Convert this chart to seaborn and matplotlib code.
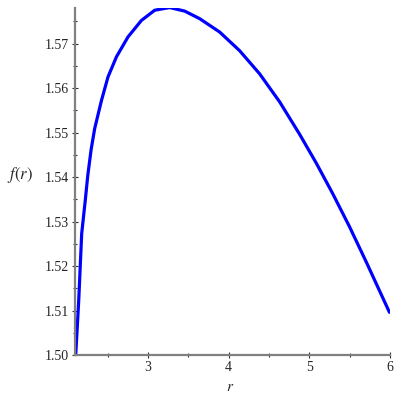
import seaborn as sns
import matplotlib
matplotlib.use("Agg")
import matplotlib.pyplot as plt
from matplotlib.ticker import MultipleLocator, FormatStrFormatter
import pandas as pd

# values
r = [2.104, 2.141, 2.178, 2.222, 2.253, 2.295, 2.339, 2.423, 2.504, 2.608,
     2.752, 2.918, 3.083, 3.269, 3.455, 3.641, 3.888, 4.136, 4.384, 4.632,
     4.880, 5.087, 5.292, 5.499, 5.706, 5.993]
f = [1.5000, 1.5122, 1.5273, 1.5347, 1.5403, 1.5462, 1.5509, 1.5572, 1.5625,
     1.5670, 1.5715, 1.5752, 1.5775, 1.5781, 1.5773, 1.5756, 1.5726, 1.5684,
     1.5632, 1.5569, 1.5496, 1.5431, 1.5362, 1.5288, 1.5209, 1.5096]
df = pd.DataFrame({'r': r, 'f': f})

sns.set_style('white')
plt.rcParams['font.family'] = ['Liberation Serif', 'DejaVu Serif']
plt.rcParams['mathtext.fontset'] = 'stix'

fig = plt.figure(figsize=(4, 4), dpi=100)
ax = fig.add_axes([0.1875, 0.1125, 0.7875, 0.8675])

sns.lineplot(data=df, x='r', y='f', ax=ax, color='#0000ff', linewidth=2.3)

ax.set_xlim(2.095, 6.0)
ax.set_ylim(1.5, 1.578)

ax.xaxis.set_major_locator(MultipleLocator(1))
ax.xaxis.set_minor_locator(MultipleLocator(0.5))
ax.yaxis.set_major_locator(MultipleLocator(0.01))
ax.yaxis.set_minor_locator(MultipleLocator(0.005))
ax.yaxis.set_major_formatter(FormatStrFormatter('%.2f'))

for s in ['top', 'right']:
    ax.spines[s].set_visible(False)
for s in ['left', 'bottom']:
    ax.spines[s].set_color('#808080')
    ax.spines[s].set_linewidth(1.6)

ax.tick_params(which='both', bottom=True, left=True, direction='inout',
               color='#303030', width=0.8, labelsize=10, pad=2)
ax.tick_params(which='major', length=5)
ax.tick_params(which='minor', length=3)

ax.set_xlabel('$r$', fontsize=11)
ax.set_ylabel('$f(r)$', fontsize=12, rotation=0)
ax.xaxis.set_label_coords(0.492, -0.075)
ax.yaxis.set_label_coords(-0.175, 0.49)

fig.savefig('out.png', dpi=100)
